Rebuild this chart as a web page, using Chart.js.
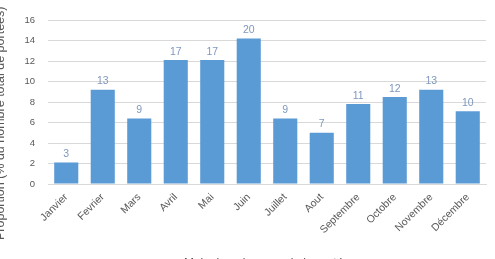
<!DOCTYPE html>
<html>
<head>
<meta charset="utf-8">
<script src="https://cdn.jsdelivr.net/npm/chart.js@4/dist/chart.umd.min.js"></script>
<style>
  html, body { margin: 0; padding: 0; background: #fff; overflow: hidden; width: 495px; height: 259px; }
  #wrap { position: absolute; left: -12px; top: 0; width: 511px; height: 275px; }
</style>
</head>
<body>
<div id="wrap"><canvas id="myChart"></canvas></div>
<script>
const mois = ['Janvier', 'Fevrier', 'Mars', 'Avril', 'Mai', 'Juin', 'Juillet', 'Aout', 'Septembre', 'Octobre', 'Novembre', 'Décembre'];
const proportions = [2.1, 9.2, 6.4, 12.1, 12.1, 14.2, 6.4, 5.0, 7.8, 8.5, 9.2, 7.1];
const effectifs = [3, 13, 9, 17, 17, 20, 9, 7, 11, 12, 13, 10];
const yTicks = [0, 2, 4, 6, 8, 10, 12, 14, 16];
const yTitle = 'Proportion (% du nombre total de portées)';

Chart.defaults.font.family = "'Liberation Sans', 'Open Sans', sans-serif";
Chart.defaults.color = '#595959';

// counts above the bars + the y title (cut by the left edge like the original)
const barLabels = {
  id: 'barLabels',
  afterDatasetsDraw(chart) {
    const c = chart.ctx;
    const meta = chart.getDatasetMeta(0);
    c.save();
    c.font = "10.5px 'Liberation Sans', sans-serif";
    c.fillStyle = '#7f98bd';
    c.textAlign = 'center';
    c.textBaseline = 'bottom';
    meta.data.forEach((bar, i) => {
      c.fillText(effectifs[i], bar.x, bar.y - 3);
    });
    c.restore();

    c.save();
    c.translate(13, 240);
    c.rotate(-Math.PI / 2);
    c.font = "12.5px 'Liberation Sans', sans-serif";
    c.fillStyle = '#595959';
    c.textAlign = 'left';
    c.textBaseline = 'middle';
    c.fillText(yTitle, 0, 0);
    c.restore();
  }
};

const ctx = document.getElementById('myChart');
const myChart = new Chart(ctx, {
  type: 'bar',
  data: {
    labels: mois,
    datasets: [{
      data: proportions,
      backgroundColor: '#5b9bd5',
      borderWidth: 0,
      categoryPercentage: 0.66,
      barPercentage: 1
    }]
  },
  options: {
    responsive: true,
    maintainAspectRatio: false,
    animation: false,
    layout: { padding: { top: 20, right: 13, left: 0, bottom: 0 } },
    plugins: {
      legend: { display: false },
      tooltip: { enabled: false }
    },
    scales: {
      x: {
        grid: { display: false, drawTicks: false },
        border: { color: '#d9d9d9' },
        ticks: { maxRotation: 45, minRotation: 45, padding: 7, font: { size: 10.5 }, color: '#595959' },
        title: { display: true, text: 'Mois de naissance de la portée', font: { size: 12 }, color: '#595959', padding: { top: 4, bottom: 4 } },
        afterFit(scale) { scale.height = 91; }
      },
      y: {
        min: 0,
        max: 16,
        afterBuildTicks(scale) { scale.ticks = yTicks.map(v => ({ value: v })); },
        grid: { color: '#d9d9d9', drawTicks: false },
        border: { display: false },
        ticks: { padding: 13, font: { size: 9.5 }, color: '#595959' },
        afterFit(scale) { scale.width = 60; }
      }
    }
  },
  plugins: [barLabels]
});
</script>
</body>
</html>
